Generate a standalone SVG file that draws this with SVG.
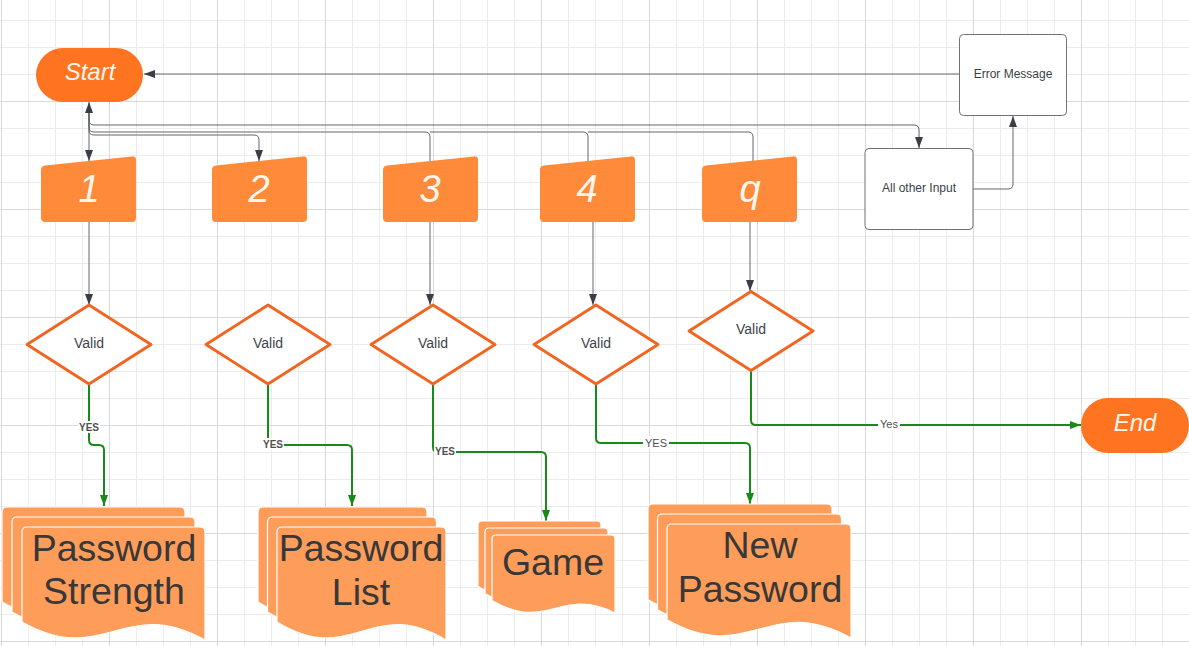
<svg xmlns="http://www.w3.org/2000/svg" xmlns:xlink="http://www.w3.org/1999/xlink" width="1189" height="646" viewBox="0 0 1189 646">
<style>
.grid{fill:url(#grid)}
.term{fill:#fe7420}
.inp{fill:#fe8a3a}
.doc{fill:#fe9d5a;stroke:#ffffff;stroke-width:1.2}
.dia{fill:#ffffff;stroke:#f26520;stroke-width:2.9;stroke-linejoin:round}
.box{fill:#ffffff;stroke:#6f7174;stroke-width:1}
.tw{font-family:"Liberation Sans",Arial,sans-serif;font-style:italic;fill:#fff7ee;text-anchor:middle}
.tv{font-family:"Liberation Sans",Arial,sans-serif;font-size:14px;fill:#3f444b;text-anchor:middle}
.tb{font-family:"Liberation Sans",Arial,sans-serif;font-size:12px;fill:#3a3f45;text-anchor:middle}
.td{font-family:"Liberation Sans",Arial,sans-serif;font-size:37.5px;fill:#383838;text-anchor:middle}
.gl{fill:none;stroke:#62666c;stroke-width:1}
.gr{fill:none;stroke:#188a18;stroke-width:2}
.lb{font-family:"Liberation Sans",Arial,sans-serif;fill:#505050;text-anchor:middle}
</style>
<defs>
<pattern id="grid" patternUnits="userSpaceOnUse" x="1" y="-7" width="108" height="108">
<rect x="0" y="0" width="108" height="108" fill="#ffffff"/>
<rect x="27" y="0" width="1" height="108" fill="#ececec"/>
<rect x="54" y="0" width="1" height="108" fill="#ececec"/>
<rect x="81" y="0" width="1" height="108" fill="#ececec"/>
<rect x="0" y="27" width="108" height="1" fill="#ececec"/>
<rect x="0" y="54" width="108" height="1" fill="#ececec"/>
<rect x="0" y="81" width="108" height="1" fill="#ececec"/>
<rect x="0" y="0" width="1" height="108" fill="#d8dadd"/>
<rect x="0" y="0" width="108" height="1" fill="#d8dadd"/>
</pattern>
<path id="manual" d="M0,14 Q0,10 4,9.6 L91,0.4 Q95,0 95,4 L95,62 Q95,66 91,66 L4,66 Q0,66 0,62 Z"/>
<path id="diamond" d="M0,-39.5 L62,0 L0,39.5 L-62,0 Z"/>
<marker id="ag" markerUnits="userSpaceOnUse" markerWidth="12" markerHeight="9" refX="11" refY="4" orient="auto">
<path d="M0,0 L11,4 L0,8 Z" fill="#3b3f45"/>
</marker>
<marker id="agr" markerUnits="userSpaceOnUse" markerWidth="12" markerHeight="9" refX="11" refY="4" orient="auto">
<path d="M0,0 L11,4 L0,8 Z" fill="#188a18"/>
</marker>
</defs>
<rect class="grid" x="0" y="0" width="1189" height="646"/>

<g id="connectors">
<path class="gl" d="M959,74 H144" marker-end="url(#ag)"/>
<path class="gl" d="M89,113 V161" marker-end="url(#ag)"/>
<path class="gl" d="M430,161 V137 Q430,132 425,132 H94 Q89,132 89,127 V102" marker-end="url(#ag)"/>
<path class="gl" d="M588,161 V137 Q588,132 583,132 H430"/>
<path class="gl" d="M753,161 V137 Q753,132 748,132 H588"/>
<path class="gl" d="M89,113 V130 Q89,135 94,135 H254 Q259,135 259,140 V161" marker-end="url(#ag)"/>
<path class="gl" d="M89,113 V120 Q89,125 94,125 H914 Q919,125 919,130 V148" marker-end="url(#ag)"/>
<path class="gl" d="M973,189 H1008 Q1013,189 1013,184 V116" marker-end="url(#ag)"/>
<path class="gl" d="M89,222 V305" marker-end="url(#ag)"/>
<path class="gl" d="M430,222 V305" marker-end="url(#ag)"/>
<path class="gl" d="M593,222 V305" marker-end="url(#ag)"/>
<path class="gl" d="M750,222 V291" marker-end="url(#ag)"/>

<path class="gr" d="M89,384 V440 Q89,445 94,445 H99 Q104,445 104,450 V506" marker-end="url(#agr)"/>
<path class="gr" d="M268,384 V440 Q268,445 273,445 H347 Q352,445 352,450 V506" marker-end="url(#agr)"/>
<path class="gr" d="M433,384 V447 Q433,452 438,452 H541 Q546,452 546,457 V521" marker-end="url(#agr)"/>
<path class="gr" d="M596,384 V438 Q596,443 601,443 H745 Q750,443 750,448 V504" marker-end="url(#agr)"/>
<path class="gr" d="M751,371 V420 Q751,425 756,425 H1081" marker-end="url(#agr)"/>

<rect x="78" y="421" width="22" height="12" fill="#ffffff"/>
<text class="lb" x="89" y="430.5" font-size="10" font-weight="bold">YES</text>
<rect x="262" y="438" width="22" height="12" fill="#ffffff"/>
<text class="lb" x="273" y="447.5" font-size="10" font-weight="bold">YES</text>
<rect x="434" y="445" width="22" height="12" fill="#ffffff"/>
<text class="lb" x="445" y="454.5" font-size="10" font-weight="bold">YES</text>
<rect x="643" y="436" width="26" height="13" fill="#ffffff"/>
<text class="lb" x="656" y="447" font-size="11">YES</text>
<rect x="878" y="418" width="22" height="13" fill="#ffffff"/>
<text class="lb" x="889" y="428" font-size="11">Yes</text>
</g>

<g id="start">
<rect class="term" x="36" y="48" width="107" height="54" rx="27"/>
<text class="tw" x="90" y="80" font-size="24">Start</text>
</g>
<g id="end">
<rect class="term" x="1081" y="398" width="108" height="55" rx="27"/>
<text class="tw" x="1135" y="431" font-size="24">End</text>
</g>

<g id="in1"><use href="#manual" class="inp" x="41" y="156"/><text class="tw" x="89" y="202" font-size="38">1</text></g>
<g id="in2"><use href="#manual" class="inp" x="212" y="156"/><text class="tw" x="259" y="202" font-size="38">2</text></g>
<g id="in3"><use href="#manual" class="inp" x="383" y="156"/><text class="tw" x="430" y="202" font-size="38">3</text></g>
<g id="in4"><use href="#manual" class="inp" x="540" y="156"/><text class="tw" x="587" y="202" font-size="38">4</text></g>
<g id="inq"><use href="#manual" class="inp" x="702" y="156"/><text class="tw" x="750" y="202" font-size="38">q</text></g>

<g id="other">
<rect class="box" x="865" y="148.5" width="108" height="81" rx="4"/>
<text class="tb" x="919" y="191.5">All other Input</text>
</g>
<g id="error">
<rect class="box" x="959.5" y="34.5" width="107" height="81" rx="4"/>
<text class="tb" x="1013" y="77.5">Error Message</text>
</g>

<g id="valid1"><use href="#diamond" class="dia" x="89" y="344.5"/><text class="tv" x="89" y="348">Valid</text></g>
<g id="valid2"><use href="#diamond" class="dia" x="268" y="344.5"/><text class="tv" x="268" y="348">Valid</text></g>
<g id="valid3"><use href="#diamond" class="dia" x="433" y="344.5"/><text class="tv" x="433" y="348">Valid</text></g>
<g id="valid4"><use href="#diamond" class="dia" x="596" y="344.5"/><text class="tv" x="596" y="348">Valid</text></g>
<g id="validq"><use href="#diamond" class="dia" x="751" y="331"/><text class="tv" x="751" y="334">Valid</text></g>

<g id="doc-strength">
<path class="doc" d="M2,512 Q2,507 7,507 H180 Q185,507 185,512 V620 C102.5,574.8 84.4,648.3 2,601.9 Z"/>
<path class="doc" d="M12,522 Q12,517 17,517 H190 Q195,517 195,522 V630 C112.5,584.8 94.4,658.3 12,611.9 Z"/>
<path class="doc" d="M22,532 Q22,527 27,527 H200 Q205,527 205,532 V640 C122.5,594.8 104.4,668.3 22,621.9 Z"/>
<text class="td" x="114" y="561">Password</text>
<text class="td" x="114" y="604">Strength</text>
</g>
<g id="doc-list">
<path class="doc" d="M258,512 Q258,507 263,507 H422 Q427,507 427,512 V620 C351,574.8 334,648.3 258,601.9 Z"/>
<path class="doc" d="M267.5,522 Q267.5,517 272.5,517 H431.5 Q436.5,517 436.5,522 V630 C360.5,584.8 343.5,658.3 267.5,611.9 Z"/>
<path class="doc" d="M277,532 Q277,527 282,527 H441 Q446,527 446,532 V640 C370,594.8 353,668.3 277,621.9 Z"/>
<text class="td" x="361" y="561">Password</text>
<text class="td" x="361" y="605">List</text>
</g>
<g id="doc-game">
<path class="doc" d="M478,525 Q478,521 482,521 H597 Q601,521 601,525 V599 C546,572 534,619 478,586.5 Z"/>
<path class="doc" d="M485,532 Q485,528 489,528 H604 Q608,528 608,532 V606 C553,579 541,626 485,593.5 Z"/>
<path class="doc" d="M492,539 Q492,535 496,535 H611 Q615,535 615,539 V613 C560,586 548,633 492,600.5 Z"/>
<text class="td" x="553" y="575">Game</text>
</g>
<g id="doc-new">
<path class="doc" d="M648,509 Q648,504 653,504 H827 Q832,504 832,509 V618 C749,572 731,646.5 648,599.8 Z"/>
<path class="doc" d="M657.5,519 Q657.5,514 662.5,514 H836.5 Q841.5,514 841.5,519 V628 C758.5,582 740.5,656.5 657.5,609.8 Z"/>
<path class="doc" d="M667,529 Q667,524 672,524 H846 Q851,524 851,529 V638 C768,592 750,666.5 667,619.8 Z"/>
<text class="td" x="760" y="558">New</text>
<text class="td" x="760" y="602">Password</text>
</g>
</svg>
